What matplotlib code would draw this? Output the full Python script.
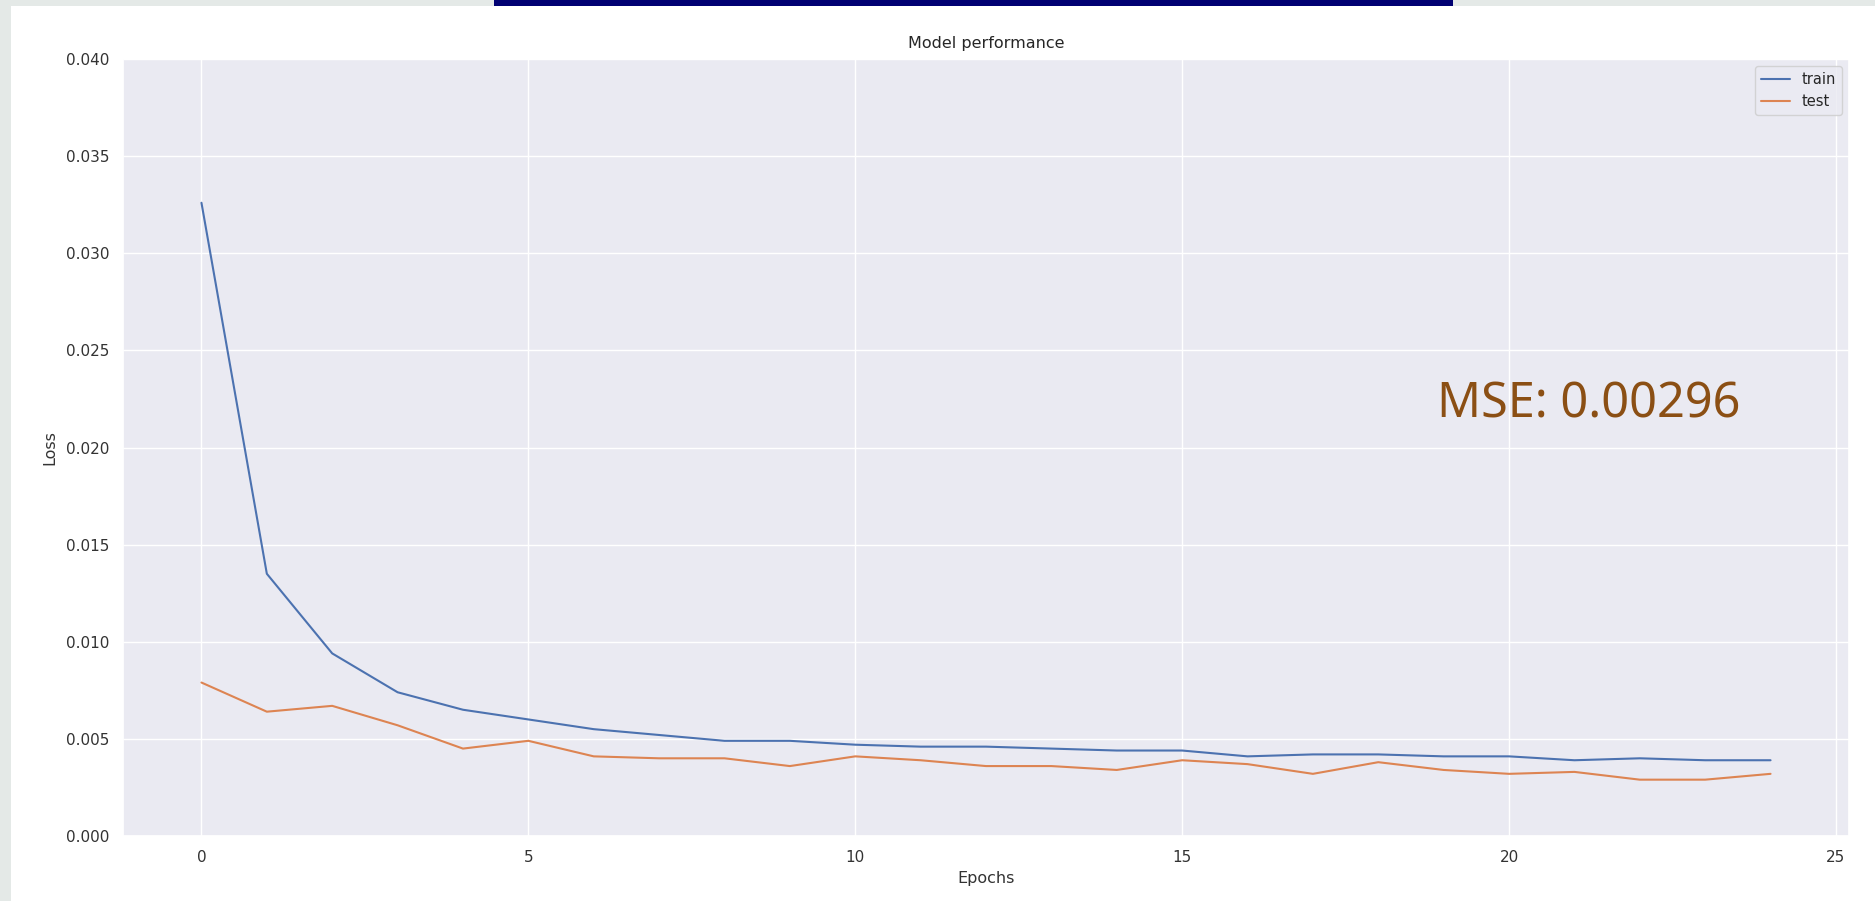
import numpy as np
import matplotlib
matplotlib.use("Agg")
import matplotlib.pyplot as plt
import seaborn as sns
from matplotlib.patches import Rectangle

# loss per epoch
epochs = list(range(25))
train_loss = [0.0326, 0.0135, 0.0094, 0.0074, 0.0065, 0.0060, 0.0055, 0.0052, 0.0049,
              0.0049, 0.0047, 0.0046, 0.0046, 0.0045, 0.0044, 0.0044, 0.0041, 0.0042,
              0.0042, 0.0041, 0.0041, 0.0039, 0.0040, 0.0039, 0.0039]
test_loss = [0.0079, 0.0064, 0.0067, 0.0057, 0.0045, 0.0049, 0.0041, 0.0040, 0.0040,
             0.0036, 0.0041, 0.0039, 0.0036, 0.0036, 0.0034, 0.0039, 0.0037, 0.0032,
             0.0038, 0.0034, 0.0032, 0.0033, 0.0029, 0.0029, 0.0032]
mse_text = "MSE: 0.00296"

sns.set_theme(style="darkgrid")
plt.rcParams['font.family'] = ['DejaVu Sans']

W, H = 1875, 901
fig = plt.figure(figsize=(W / 100, H / 100), dpi=100)
fig.patch.set_facecolor("#e4e9e7")

# white slide panel + navy strip at top (behind the axes)
fig.patches.append(Rectangle((11 / W, 0), 1 - 11 / W, 1 - 6 / H, transform=fig.transFigure,
                             facecolor="white", edgecolor="none", zorder=-10))
fig.patches.append(Rectangle((494 / W, 1 - 6 / H), (1453 - 494) / W, 6 / H, transform=fig.transFigure,
                             facecolor="#000072", edgecolor="none", zorder=-10))

ax = fig.add_axes([123 / W, 1 - 836 / H, (1849 - 123) / W, (836 - 59) / H])
pal = sns.color_palette("deep")
ax.plot(epochs, train_loss, color=pal[0], lw=1.5, label="train")
ax.plot(epochs, test_loss, color=pal[1], lw=1.5, label="test")

ax.set_ylim(0, 0.04)
ax.set_yticks(np.arange(0, 0.0401, 0.005))
ax.set_yticklabels(["%.3f" % v for v in np.arange(0, 0.0401, 0.005)])
ax.set_xticks([0, 5, 10, 15, 20, 25])
ax.tick_params(axis="both", length=0, labelsize=11, colors="#333333", pad=10)
ax.set_title("Model performance", fontsize=11.5, color="#262626", pad=8)
ax.set_xlabel("Epochs", fontsize=11.5, color="#333333", labelpad=4.4)
ax.set_ylabel("Loss", fontsize=11.5, color="#333333", labelpad=5.7)
ax.legend(loc="upper right", fontsize=10.5, handlelength=2.0, borderaxespad=0.5)

fig.text(1437 / W, 1 - 418 / H, mse_text, fontsize=35, color="#8b4f14",
         family=["Noto Sans", "DejaVu Sans"], ha="left", va="baseline")

fig.savefig("out.png", dpi=100, facecolor=fig.get_facecolor())
